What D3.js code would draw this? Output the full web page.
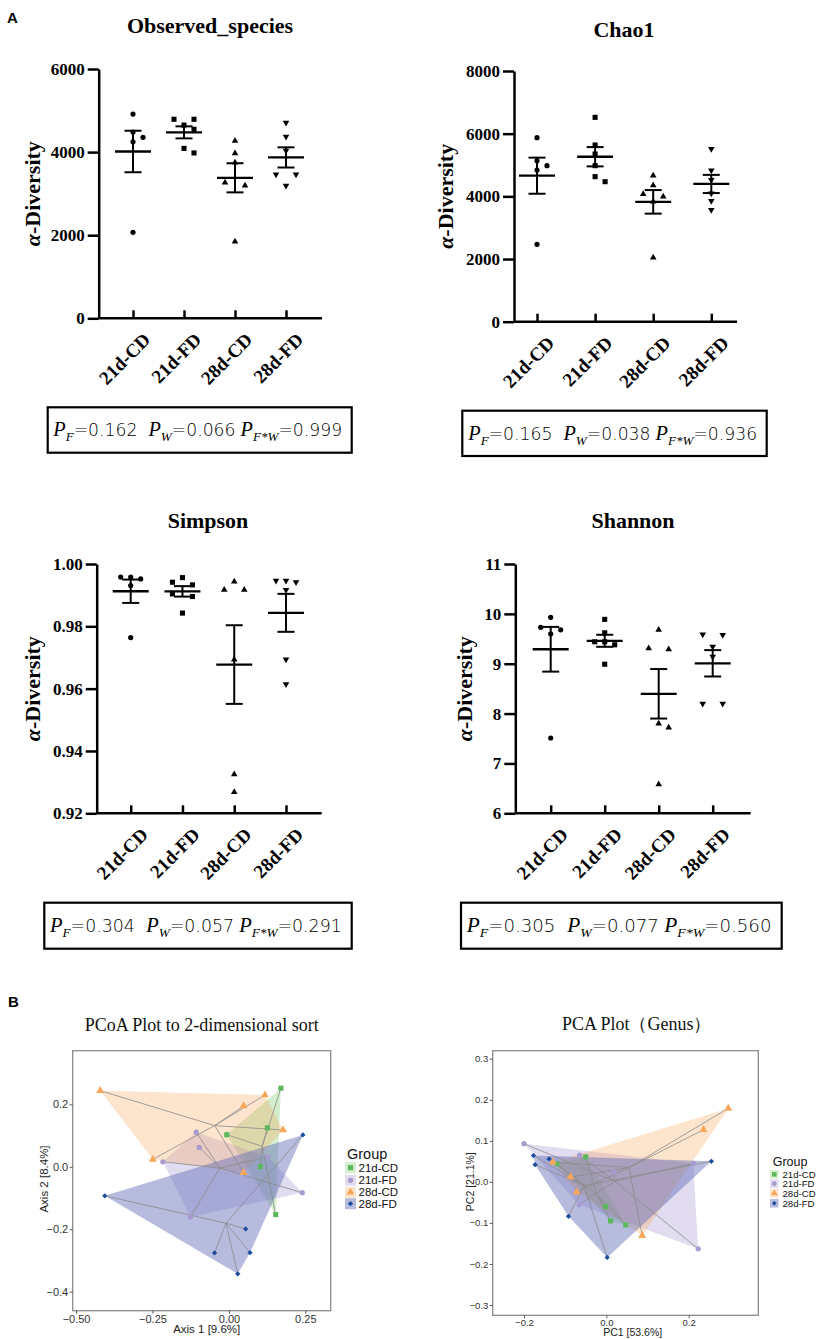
<!DOCTYPE html>
<html><head><meta charset="utf-8">
<script src="https://cdn.jsdelivr.net/npm/d3@7"></script>
<style>body{margin:0;background:#fff} svg{display:block}</style>
</head><body>
<svg id="c" width="818" height="1339"></svg>
<script>
// ---------------- data ----------------
const groups = ["21d-CD", "21d-FD", "28d-CD", "28d-FD"];

const observedSpecies = [
  [4916, 4483, 4355, 4250, 2069],
  [4790, 4790, 4650, 4550, 4090, 3980],
  [4274, 3970, 3745, 3264, 3192, 1844],
  [4707, 4371, 4034, 3464, 3464, 3192]
];
const chao1 = [
  [5872, 5138, 4979, 4840, 2468],
  [6521, 5638, 5351, 4979, 4628, 4468],
  [4660, 4351, 4074, 3989, 3830, 2043],
  [5510, 4830, 4521, 4096, 3851, 3564]
];
const simpson = [
  [0.9958, 0.9958, 0.9952, 0.9931, 0.9764],
  [0.99563, 0.99415, 0.9933, 0.99042, 0.98956, 0.98425],
  [0.99435, 0.99169, 0.99169, 0.96936, 0.9325, 0.9268],
  [0.99467, 0.99467, 0.99415, 0.99169, 0.96936, 0.96143]
];
const shannon = [
  [9.93, 9.73, 9.68, 9.60, 7.51],
  [9.89, 9.62, 9.44, 9.44, 9.38, 8.99],
  [9.68, 9.31, 9.29, 7.80, 7.72, 6.58],
  [9.59, 9.58, 9.34, 9.14, 8.20, 8.20]
];

const observedTicks = [0, 2000, 4000, 6000];
const chaoTicks = [0, 2000, 4000, 6000, 8000];
const simpsonTicks = [0.92, 0.94, 0.96, 0.98, 1.00];
const shannonTicks = [6, 7, 8, 9, 10, 11];

const alphaTitles = ["Observed_species", "Chao1", "Simpson", "Shannon"];
// P values: [P_F, P_W, P_F*W]
const pStats = [
  ["0.162", "0.066", "0.999"],
  ["0.165", "0.038", "0.936"],
  ["0.304", "0.057", "0.291"],
  ["0.305", "0.077", "0.560"]
];

// PCoA (Axis 1, Axis 2)
const pcoa21CD = [[0.170, 0.252], [0.126, 0.125], [-0.007, 0.103], [0.103, 0.001], [0.153, -0.153]];
const pcoa21FD = [[-0.107, 0.111], [-0.097, 0.062], [-0.216, 0.016], [0.128, 0.032], [0.240, -0.083], [-0.126, -0.161]];
const pcoa28CD = [[-0.421, 0.244], [0.118, 0.230], [0.048, 0.195], [0.177, 0.118], [-0.249, 0.024], [0.048, -0.019]];
const pcoa28FD = [[-0.406, -0.093], [0.242, 0.102], [0.055, -0.199], [-0.047, -0.276], [0.069, -0.275], [0.029, -0.343]];
const pcoaXTicks = [-0.50, -0.25, 0.00, 0.25];
const pcoaYTicks = [-0.4, -0.2, 0.0, 0.2];

// PCA (PC1, PC2)
const pca21CD = [[-0.050, 0.061], [-0.120, 0.044], [-0.002, -0.060], [0.010, -0.095], [0.047, -0.105]];
const pca21FD = [[-0.200, 0.093], [-0.065, 0.065], [0.019, 0.024], [0.211, 0.045], [-0.066, -0.056], [0.223, -0.163]];
const pca28CD = [[0.296, 0.179], [0.236, 0.127], [-0.130, 0.048], [-0.087, 0.012], [-0.072, -0.025], [0.087, -0.131]];
const pca28FD = [[-0.177, 0.064], [-0.139, 0.056], [-0.173, 0.042], [0.255, 0.050], [-0.092, -0.084], [0.002, -0.184]];
const pcaXTicks = [-0.2, 0.0, 0.2];
const pcaYTicks = [-0.3, -0.2, -0.1, 0.0, 0.1, 0.2, 0.3];

// ---------------- styles ----------------
const pointColors = ["#5cb85c", "#a99ad0", "#f7a65a", "#1c4c9c"];
const hullColors = ["#6cc25a", "#a99ad0", "#f7a65a", "#5f6ab8"];
const hullOpacity = [0.3, 0.35, 0.3, 0.45];
const alphaSymbols = [d3.symbolCircle, d3.symbolSquare, d3.symbolTriangle, d3.symbolTriangle];
const alphaSymSize = [21, 26, 19, 19];
const alphaSymRot = [0, 0, 0, 180];

const svg = d3.select("#c");
const SERIF = "'Liberation Serif', 'Times New Roman', serif";
const SANS = "'Liberation Sans', Arial, sans-serif";

svg.append("text").attr("x", 7).attr("y", 22.7).text("A")
  .attr("font-family", SANS).attr("font-weight", "bold").attr("font-size", 15);
svg.append("text").attr("x", 8).attr("y", 1006.7).text("B")
  .attr("font-family", SANS).attr("font-weight", "bold").attr("font-size", 15);

// ---------------- alpha diversity panels ----------------
const alphaLayout = [
  { data: observedSpecies, ticks: observedTicks, fmt: d3.format("d"), axisX: 98.7, axisEnd: 322, yTop: 69, yBot: 318.3, cat: [133, 286], titleX: 210, titleY: 33, ylabX: 32, box: [47.7, 407.3, 304, 45.4], textX: 53.3, textW: 290, textY: 436.5 },
  { data: chao1, ticks: chaoTicks, fmt: d3.format("d"), axisX: 514, axisEnd: 737, yTop: 71, yBot: 321.7, cat: [537, 711.3], titleX: 624, titleY: 37, ylabX: 445.5, box: [462.3, 410.7, 304.4, 45.3], textX: 468.3, textW: 290, textY: 440 },
  { data: simpson, ticks: simpsonTicks, fmt: d3.format(".2f"), axisX: 96.7, axisEnd: 321.7, yTop: 564, yBot: 813.3, cat: [130.7, 286], titleX: 208, titleY: 528, ylabX: 32, box: [44.3, 902.7, 307.4, 46], textX: 50, textW: 293, textY: 931.7 },
  { data: shannon, ticks: shannonTicks, fmt: d3.format("d"), axisX: 515.3, axisEnd: 750.7, yTop: 564, yBot: 813.3, cat: [550.7, 712.7], titleX: 633, titleY: 528, ylabX: 464, box: [461, 902.7, 320.7, 46], textX: 466.7, textW: 306, textY: 932.3 }
];

function swarm(values, y, d) {
  const idx = values.map((v, i) => i).sort((a, b) => values[b] - values[a]);
  const rows = [];
  idx.forEach(i => {
    const last = rows.length ? rows[rows.length - 1] : null;
    if (last && Math.abs(y(values[last[last.length - 1]]) - y(values[i])) < 3) last.push(i);
    else rows.push([i]);
  });
  const off = new Array(values.length).fill(0);
  const placed = [];
  rows.forEach(r => {
    if (r.length === 1) {
      const py = y(values[r[0]]);
      const cands = [0, d, -d, 2 * d, -2 * d];
      let o = 0;
      for (const c of cands) {
        if (placed.every(p => Math.hypot(p[0] - c, p[1] - py) >= 6)) { o = c; break; }
      }
      off[r[0]] = o; placed.push([o, py]);
    } else {
      r.forEach((i, k) => {
        const o = (k - (r.length - 1) / 2) * (r.length === 2 ? 2 * d : d);
        off[i] = o; placed.push([o, y(values[i])]);
      });
    }
  });
  return off;
}

alphaLayout.forEach((L, pi) => {
  const g = svg.append("g");
  const y = d3.scaleLinear().domain([L.ticks[0], L.ticks[L.ticks.length - 1]]).range([L.yBot, L.yTop]);
  const x = d3.scalePoint().domain(groups).range(L.cat);

  // title
  g.append("text").attr("x", L.titleX).attr("y", L.titleY).attr("text-anchor", "middle")
    .attr("font-family", SERIF).attr("font-weight", "bold").attr("font-size", 22).text(alphaTitles[pi]);

  // y label
  const yl = g.append("text")
    .attr("transform", `translate(${L.ylabX},${(L.yTop + L.yBot) / 2}) rotate(-90)`)
    .attr("text-anchor", "middle").attr("dy", "0.35em")
    .attr("font-family", SERIF).attr("font-weight", "bold").attr("font-size", 22);
  yl.append("tspan").attr("font-style", "italic").text("α");
  yl.append("tspan").text("-Diversity");

  // y axis
  const ya = g.append("g").attr("transform", `translate(${L.axisX},0)`)
    .call(d3.axisLeft(y).tickValues(L.ticks).tickFormat(L.fmt).tickSize(11).tickSizeOuter(0).tickPadding(3));
  ya.selectAll("path,line").attr("stroke", "#000").attr("stroke-width", 2.5);
  ya.selectAll("text").attr("font-family", SERIF).attr("font-weight", "bold").attr("font-size", 17).attr("fill", "#000");

  // x axis
  g.append("line").attr("x1", L.axisX).attr("x2", L.axisEnd).attr("y1", L.yBot).attr("y2", L.yBot)
    .attr("stroke", "#000").attr("stroke-width", 2.5);
  const xa = g.append("g").attr("transform", `translate(0,${L.yBot})`)
    .call(d3.axisBottom(x).tickSize(-8).tickSizeOuter(0).tickFormat(""));
  xa.select(".domain").remove();
  xa.selectAll("line").attr("stroke", "#000").attr("stroke-width", 2.5);
  groups.forEach(gr => {
    g.append("text").attr("transform", `translate(${x(gr) + 9},${L.yBot + 13}) rotate(-45)`)
      .attr("text-anchor", "end").attr("dy", "0.71em")
      .attr("font-family", SERIF).attr("font-weight", "bold").attr("font-size", 19).text(gr);
  });

  // points and error bars
  L.data.forEach((vals, gi) => {
    const cx = x(groups[gi]);
    const offs = swarm(vals, y, 10);
    const sym = d3.symbol().type(alphaSymbols[gi]).size(alphaSymSize[gi]);
    vals.forEach((v, k) => {
      g.append("path").attr("d", sym())
        .attr("transform", `translate(${cx + offs[k]},${y(v)}) rotate(${alphaSymRot[gi]})`)
        .attr("fill", "#000");
    });
    const m = d3.mean(vals);
    const se = d3.deviation(vals) / Math.sqrt(vals.length);
    const eb = g.append("g").attr("stroke", "#000").attr("stroke-width", 2);
    eb.append("line").attr("x1", cx - 18).attr("x2", cx + 18).attr("y1", y(m)).attr("y2", y(m)).attr("stroke-width", 2.3);
    eb.append("line").attr("x1", cx).attr("x2", cx).attr("y1", y(m + se)).attr("y2", y(m - se));
    eb.append("line").attr("x1", cx - 8.5).attr("x2", cx + 8.5).attr("y1", y(m + se)).attr("y2", y(m + se));
    eb.append("line").attr("x1", cx - 8.5).attr("x2", cx + 8.5).attr("y1", y(m - se)).attr("y2", y(m - se));
  });

  // stats box
  const [bx, by, bw, bh] = L.box;
  g.append("rect").attr("x", bx).attr("y", by).attr("width", bw).attr("height", bh)
    .attr("fill", "none").attr("stroke", "#000").attr("stroke-width", 2.2);
  const t = g.append("text").attr("x", L.textX).attr("y", L.textY)
    .attr("font-family", "'DejaVu Sans', sans-serif").attr("font-weight", 300).attr("font-size", 17).attr("fill", "#000");
  const P = (dx) => t.append("tspan").attr("dx", dx).attr("font-family", SERIF).attr("font-style", "italic").attr("font-size", 20).text("P");
  const sub = (s) => t.append("tspan").attr("dy", 5).attr("font-family", SERIF).attr("font-style", "italic").attr("font-size", 13).text(s);
  const val = (s) => t.append("tspan").attr("dy", -5).text("=" + s);
  P(0); sub("F"); val(pStats[pi][0]);
  P(11); sub("W"); val(pStats[pi][1]);
  P(5); sub("F*W"); val(pStats[pi][2]);
  const w = t.node().getBBox().width;
  const k = L.textW / w;
  t.attr("transform", `translate(${L.textX},0) scale(${k},1) translate(${-L.textX},0)`);
});

// ---------------- ordination panels ----------------
const ordLayout = [
  { pts: [pcoa21CD, pcoa21FD, pcoa28CD, pcoa28FD], title: "PCoA Plot to 2-dimensional sort", titleX: 201.7, titleY: 1030.7,
    frame: [72.7, 1050.7, 330.7, 1310.7], xDom: [-0.511, 0.333], yDom: [-0.461, 0.372],
    xTicks: pcoaXTicks, xFmt: d3.format(".2f"), yTicks: pcoaYTicks, yFmt: d3.format(".1f"), tickFont: 11, xPad: 2,
    xLabel: "Axis 1 [9.6%]", xLabelPos: [206.7, 1333], yLabel: "Axis 2 [8.4%]", yLabelPos: [47.5, 1179], axisFont: 11.5,
    leg: { titleX: 347, titleY: 1159.3, titleFont: 14.5, keyX: 345, key: 11, ys: [1167.7, 1180.3, 1192.3, 1203.7], labX: 358.5, labFont: 11.5 } },
  { pts: [pca21CD, pca21FD, pca28CD, pca28FD], title: "PCA Plot（Genus）", titleX: 636.7, titleY: 1030,
    frame: [492.7, 1050.7, 758.3, 1315.3], xDom: [-0.276, 0.369], yDom: [-0.325, 0.3195],
    xTicks: pcaXTicks, xFmt: d3.format(".1f"), yTicks: pcaYTicks, yFmt: d3.format(".1f"), tickFont: 9.5, xPad: 1,
    xLabel: "PC1 [53.6%]", xLabelPos: [632.7, 1336], yLabel: "PC2 [21.1%]", yLabelPos: [473.5, 1181.7], axisFont: 10.5,
    leg: { titleX: 772.7, titleY: 1165.5, titleFont: 12.5, keyX: 770, key: 8.5, ys: [1174.3, 1183.7, 1193.3, 1203.3], labX: 782.5, labFont: 9.6 } }
];

const ordSymbols = [d3.symbolSquare, d3.symbolCircle, d3.symbolTriangle, d3.symbolSquare];
const ordSymSize = [26, 22, 28, 14];
const ordSymRot = [0, 0, 0, 45];

ordLayout.forEach(O => {
  const g = svg.append("g");
  const [fx0, fy0, fx1, fy1] = O.frame;
  const x = d3.scaleLinear().domain(O.xDom).range([fx0, fx1]);
  const y = d3.scaleLinear().domain(O.yDom).range([fy1, fy0]);

  g.append("text").attr("x", O.titleX).attr("y", O.titleY).attr("text-anchor", "middle")
    .attr("font-family", SERIF).attr("font-size", 18).attr("fill", "#111").text(O.title);

  g.append("rect").attr("x", fx0).attr("y", fy0).attr("width", fx1 - fx0).attr("height", fy1 - fy0)
    .attr("fill", "#fff").attr("stroke", "#8a8a8a").attr("stroke-width", 1.3);

  const xa = g.append("g").attr("transform", `translate(0,${fy1})`)
    .call(d3.axisBottom(x).tickValues(O.xTicks).tickFormat(O.xFmt).tickSize(3).tickPadding(O.xPad));
  const ya = g.append("g").attr("transform", `translate(${fx0},0)`)
    .call(d3.axisLeft(y).tickValues(O.yTicks).tickFormat(O.yFmt).tickSize(3).tickPadding(1.5));
  [xa, ya].forEach(a => {
    a.select(".domain").remove();
    a.selectAll("line").attr("stroke", "#555");
    a.selectAll("text").attr("font-family", SANS).attr("font-size", O.tickFont).attr("fill", "#333");
  });

  g.append("text").attr("x", O.xLabelPos[0]).attr("y", O.xLabelPos[1]).attr("text-anchor", "middle")
    .attr("font-family", SANS).attr("font-size", O.axisFont).attr("fill", "#222").text(O.xLabel);
  g.append("text").attr("transform", `translate(${O.yLabelPos[0]},${O.yLabelPos[1]}) rotate(-90)`)
    .attr("text-anchor", "middle").attr("font-family", SANS).attr("font-size", O.axisFont).attr("fill", "#222").text(O.yLabel);

  const px = O.pts.map(arr => arr.map(p => [x(p[0]), y(p[1])]));
  // hulls
  px.forEach((arr, gi) => {
    const h = d3.polygonHull(arr);
    g.append("path").attr("d", "M" + h.join("L") + "Z")
      .attr("fill", hullColors[gi]).attr("fill-opacity", hullOpacity[gi]).attr("stroke", "none");
  });
  // spider lines to centroid
  px.forEach(arr => {
    const c = [d3.mean(arr, p => p[0]), d3.mean(arr, p => p[1])];
    arr.forEach(p => {
      g.append("line").attr("x1", c[0]).attr("y1", c[1]).attr("x2", p[0]).attr("y2", p[1])
        .attr("stroke", "#8c8c8c").attr("stroke-width", 0.9).attr("stroke-opacity", 0.9);
    });
  });
  // points
  px.forEach((arr, gi) => {
    const sym = d3.symbol().type(ordSymbols[gi]).size(ordSymSize[gi]);
    arr.forEach(p => {
      g.append("path").attr("d", sym()).attr("transform", `translate(${p[0]},${p[1]}) rotate(${ordSymRot[gi]})`)
        .attr("fill", pointColors[gi]);
    });
  });
  // legend
  const L = O.leg;
  g.append("text").attr("x", L.titleX).attr("y", L.titleY).attr("font-family", SANS)
    .attr("font-size", L.titleFont).attr("fill", "#111").text("Group");
  groups.forEach((gr, gi) => {
    const cy = L.ys[gi];
    g.append("rect").attr("x", L.keyX).attr("y", cy - L.key / 2).attr("width", L.key).attr("height", L.key)
      .attr("fill", hullColors[gi]).attr("fill-opacity", hullOpacity[gi]);
    const sym = d3.symbol().type(ordSymbols[gi]).size(ordSymSize[gi] * (L.key / 11));
    g.append("path").attr("d", sym()).attr("transform", `translate(${L.keyX + L.key / 2},${cy}) rotate(${ordSymRot[gi]})`)
      .attr("fill", pointColors[gi]);
    g.append("text").attr("x", L.labX).attr("y", cy).attr("dy", "0.36em").attr("font-family", SANS)
      .attr("font-size", L.labFont).attr("fill", "#111").text(gr);
  });
});
</script>
</body></html>
